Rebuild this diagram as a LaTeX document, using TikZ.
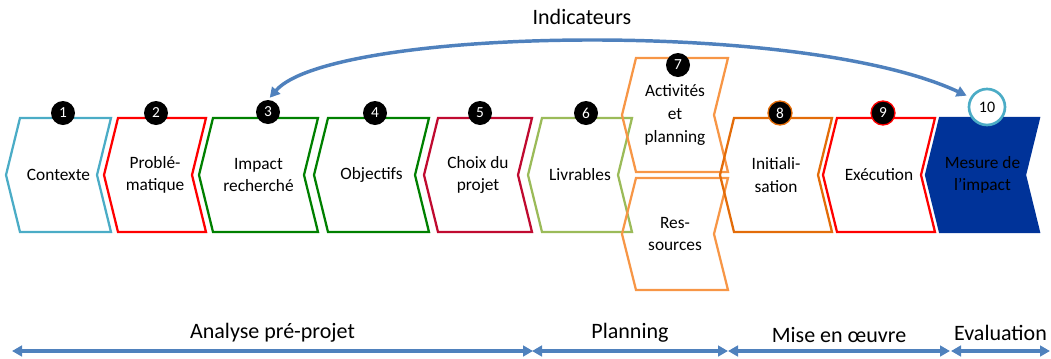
\documentclass[tikz,border=0pt]{standalone}
\usepackage{fontspec}
\setmainfont{Carlito}
\usetikzlibrary{arrows.meta,calc}

\definecolor{cteal}{RGB}{75,172,198}
\definecolor{cred}{RGB}{255,0,0}
\definecolor{cgreen}{RGB}{0,128,0}
\definecolor{ccrimson}{RGB}{192,10,48}
\definecolor{cleaf}{RGB}{155,187,89}
\definecolor{corange}{RGB}{247,150,70}
\definecolor{cburnt}{RGB}{227,108,9}
\definecolor{cnavy}{RGB}{0,51,153}
\definecolor{cblue}{RGB}{79,129,189}

\tikzset{
  stepline/.style={line width=1.7pt, line join=miter},
  steptext/.style={align=center, font=\fontsize{13}{17}\selectfont, inner sep=0pt},
  badge/.style={circle, fill=black, text=white, minimum size=18pt, inner sep=0pt,
                font=\fontsize{11.5}{11.5}\selectfont},
  tips/.style={{Triangle[length=7.5pt,width=8pt]}-{Triangle[length=7.5pt,width=8pt]}},
  flow/.style={draw=cblue, line width=2.4pt, tips},
  phase/.style={font=\fontsize{16.5}{18}\selectfont}
}

% process step: left, right, top, bottom, options, name, label
\newcommand\stepshape[7]{%
  \draw[stepline,#5] (#1,#3) -- (#2,#3) -- ({#2-14},{(#3+#4)/2}) -- (#2,#4)
        -- (#1,#4) -- ({#1-14},{(#3+#4)/2}) -- cycle;
  \node[steptext] (#6) at ({(#1+#2-14)/2},{(#3+#4)/2}) {#7};
}

\begin{document}
\begin{tikzpicture}[x=0.75pt,y=-0.75pt]
\useasboundingbox (0,0) rectangle (1051,358);

% steps
\stepshape{20}{111}{118}{232}{draw=cteal}{contexte}{Contexte}
\stepshape{118}{206}{118}{232}{draw=cred}{probleme}{Problé-\\matique}
\stepshape{213}{318}{118}{232}{draw=cgreen}{impact}{Impact\\recherché}
\stepshape{328}{429}{118}{232}{draw=cgreen}{objectifs}{Objectifs}
\stepshape{438}{532}{118}{232}{draw=ccrimson}{choix}{Choix du\\projet}
\stepshape{542}{632}{118}{232}{draw=cleaf}{livrables}{Livrables}
\stepshape{636}{728}{58}{172}{draw=corange}{activites}{Activités\\et\\planning}
\stepshape{636}{728}{178}{290}{draw=corange}{ressources}{Res-\\sources}
\stepshape{734}{832}{118}{232}{draw=cburnt}{init}{Initiali-\\sation}
\stepshape{837}{935}{118}{232}{draw=cred}{execution}{Exécution}
\stepshape{940}{1039}{118}{232}{draw=cnavy,fill=cnavy,text=white}{mesure}{Mesure de\\l’impact}

% numbered badges
\node[badge] (b1) at (63,113) {1};
\node[badge] (b2) at (156,113) {2};
\node[badge] (b3) at (268,112) {3};
\node[badge] (b4) at (375,113) {4};
\node[badge] (b5) at (480,113) {5};
\node[badge] (b6) at (586,113) {6};
\node[badge] (b7) at (678,65) {7};
\node[badge, draw=cburnt, line width=1pt] (b8) at (780,113) {8};
\node[badge, draw=cred, line width=1pt] (b9) at (883,113) {9};
\node[circle, draw=cteal, fill=white, line width=2pt, minimum size=27pt, inner sep=0pt,
      font=\fontsize{12}{12}\selectfont] (b10) at (987,107) {10};

% feedback loop
\draw[draw=cblue, line width=2.6pt, tips, shorten <=2pt, shorten >=3pt]
  (b3.north) .. controls (330,28) and (800,18) .. (b10.150);
\node[phase] (indic) at (582,17) {Indicateurs};

% phases
\coordinate (p0) at (12,351);
\coordinate (p1) at (533,351);
\coordinate (p2) at (532,351);
\coordinate (p3) at (728,351);
\coordinate (p4) at (728,351);
\coordinate (p5) at (950,351);
\coordinate (p6) at (951,351);
\coordinate (p7) at (1050,351);
\draw[flow] (p0) -- node[phase, midway, above=2pt] {Analyse pré-projet} (p1);
\draw[flow] (p2) -- node[phase, midway, above=2pt] {Planning} (p3);
\draw[flow] (p4) -- node[phase, midway, above=2pt] {Mise en œuvre} (p5);
\draw[flow] (p6) -- node[phase, midway, above=3pt] {Evaluation} (p7);
\end{tikzpicture}
\end{document}
